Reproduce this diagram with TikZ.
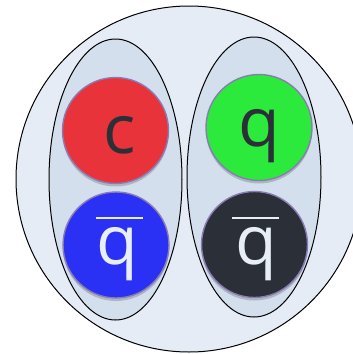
\documentclass[tikz,border=0pt]{standalone}
\usepackage{fontspec}
\setmainfont{Open Sans}
\usetikzlibrary{shadows}
\definecolor{bgfill}{HTML}{E5ECF5}
\definecolor{ellfill}{HTML}{D3DFEC}
\definecolor{qred}{HTML}{E8333B}
\definecolor{qgreen}{HTML}{2BEA3B}
\definecolor{qblue}{HTML}{2B30F5}
\definecolor{qdark}{HTML}{2B3038}
\definecolor{qborder}{HTML}{8B7BB5}
\definecolor{lighttext}{HTML}{E8EEF6}
\tikzset{
  pair/.style={draw=black, line width=1pt, fill=ellfill},
  quark/.style={circle, draw=qborder, line width=1.4pt, minimum size=106pt, inner sep=0pt,
    drop shadow={shadow xshift=0pt, shadow yshift=-3pt, opacity=0.18, fill=black}},
  lbl/.style={inner sep=0pt, font=\fontsize{68}{68}\selectfont},
  bar/.style={draw=lighttext, line width=2.6pt}
}
\begin{document}
\begin{tikzpicture}[x=1pt,y=-1pt]
\useasboundingbox (0,0) rectangle (353,354);
\clip (0,0) rectangle (353,354);
\node[circle, draw=black, line width=1pt, fill=bgfill, minimum size=346pt, inner sep=0pt] (meson) at (189,179) {};
\draw[pair] (115.5,179.5) ellipse [x radius=66.5, y radius=140.5];
\draw[pair] (254,177) ellipse [x radius=67, y radius=140];
\node[quark, fill=qred] (c) at (115.5,130.5) {};
\node[quark, fill=qblue] (qb1) at (116,245) {};
\node[quark, fill=qgreen] (q) at (259,127.5) {};
\node[quark, fill=qdark] (qb2) at (254.5,244.5) {};
\node[lbl, text=qdark] (ct) at (120,135) {c};
\node[lbl, text=qdark] (qt) at (259,136.5) {q};
\node[lbl, text=lighttext] (qb1t) at (117,254.5) {q};
\node[lbl, text=lighttext] (qb2t) at (256,254.5) {q};
\draw[bar] (96,218) -- (143,218);
\draw[bar] (232,218) -- (279,218);
\end{tikzpicture}
\end{document}
